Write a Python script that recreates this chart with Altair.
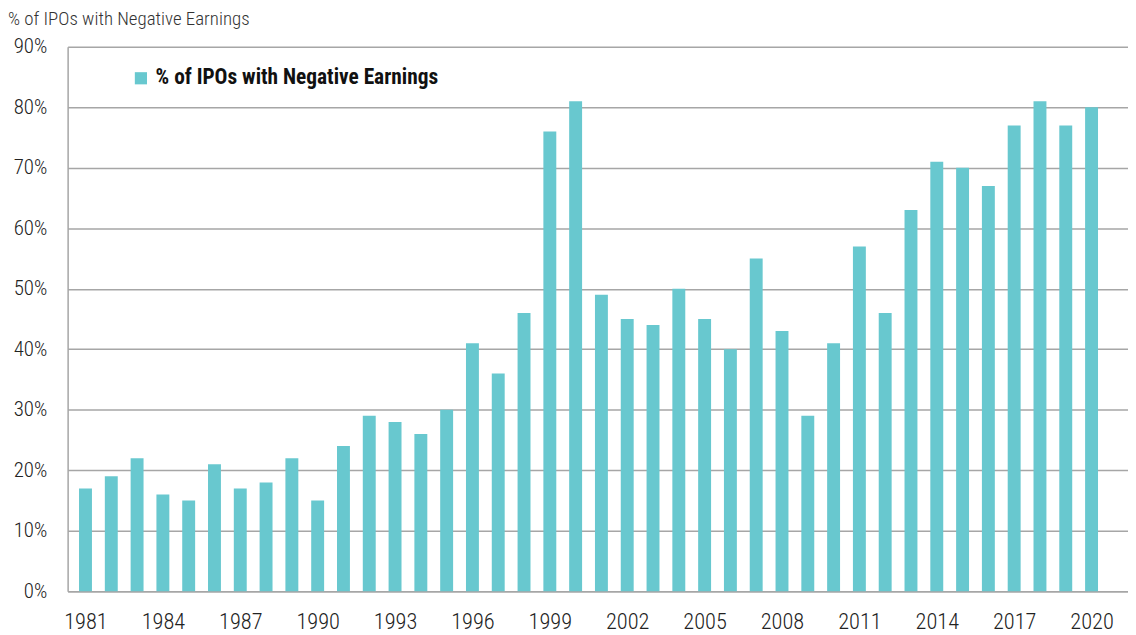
import altair as alt
import pandas as pd

years = list(range(1981, 2021))
pct = [17, 19, 22, 16, 15, 21, 17, 18, 22, 15,
       24, 29, 28, 26, 30, 41, 36, 46, 76, 81,
       49, 45, 44, 50, 45, 40, 55, 43, 29, 41,
       57, 46, 63, 71, 70, 67, 77, 81, 77, 80]
series_name = "% of IPOs with Negative Earnings"
x_ticks = list(range(1981, 2021, 3))
y_ticks = [0, 10, 20, 30, 40, 50, 60, 70, 80, 90]

df = pd.DataFrame({"year": years, "pct": pct, "series": series_name})

FONT = "Roboto Condensed, Liberation Sans Narrow, DejaVu Sans Condensed, sans-serif"

bars = alt.Chart(df).mark_bar(size=13).encode(
    x=alt.X("year:Q",
            scale=alt.Scale(domain=[1980.5, 2021.22], nice=False, zero=False),
            axis=alt.Axis(values=x_ticks, format="d", title=None, grid=False,
                          ticks=False, labelFontSize=22.5, labelPadding=19,
                          labelColor="#222222", domainColor="#a6a6a6",
                          domainWidth=1.5, labelFont=FONT,
                          labelFontWeight=300)),
    y=alt.Y("pct:Q",
            scale=alt.Scale(domain=[0, 90], nice=False),
            axis=alt.Axis(values=y_ticks, labelExpr="datum.value + '%'",
                          title=None, ticks=False, grid=True,
                          gridColor="#a6a6a6", gridWidth=1.5,
                          domainColor="#a6a6a6", domainWidth=1.5,
                          labelFontSize=21, labelPadding=21,
                          labelColor="#222222", labelFont=FONT,
                          labelFontWeight=300)),
    color=alt.Color("series:N",
                    scale=alt.Scale(range=["#68C8CF"]),
                    legend=alt.Legend(title=None, orient="none",
                                      legendX=63, legendY=21,
                                      symbolType="square", symbolSize=150,
                                      symbolStrokeWidth=0,
                                      labelFont=FONT, labelFontSize=21.5,
                                      labelFontWeight="bold", labelLimit=0,
                                      labelColor="#111111", labelOffset=4)),
)

chart = bars.properties(
    width=1067, height=548,
    title=alt.TitleParams(series_name, anchor="start", frame="group",
                          dx=-60, offset=7, fontSize=19,
                          font=FONT, fontWeight=300, color="#333333"),
    autosize=alt.AutoSizeParams(type="none"),
    padding={"left": 60, "top": 37, "right": 0, "bottom": 42},
).configure_view(stroke=None).configure_axis(labelFont=FONT)

chart.save("out.html", embed_options={"renderer": "svg", "actions": False})
